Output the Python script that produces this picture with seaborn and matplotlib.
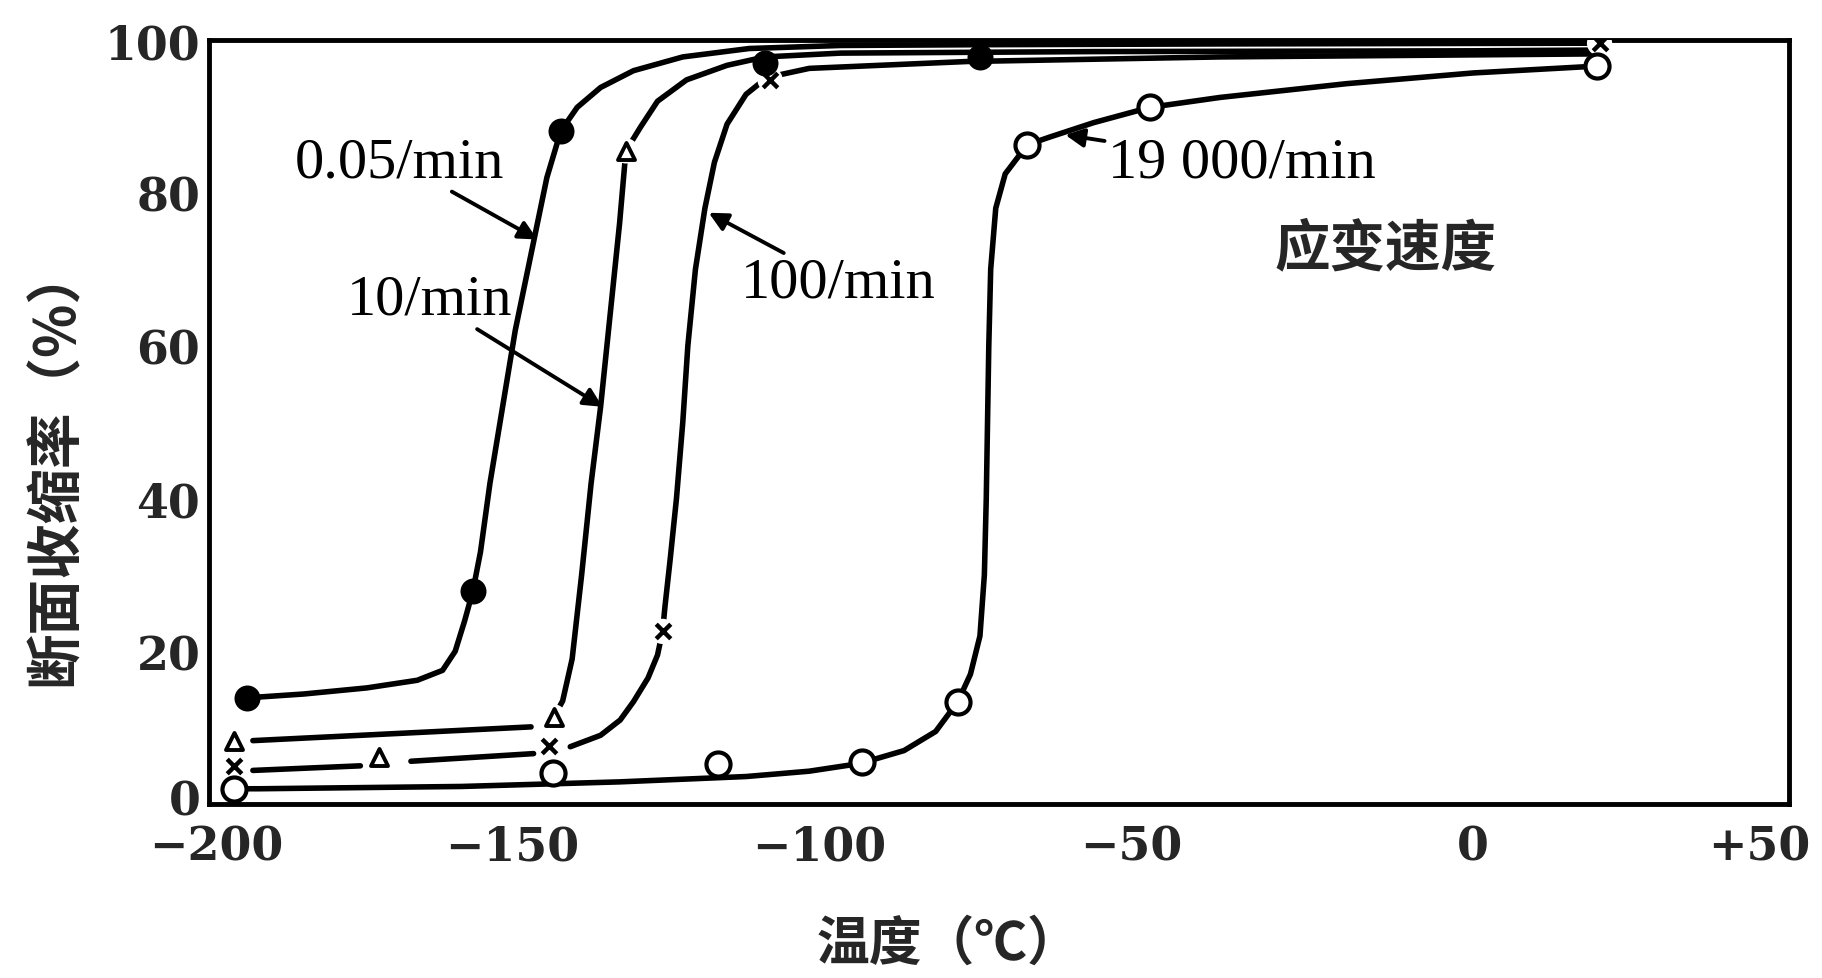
import numpy as np
import pandas as pd
import matplotlib
matplotlib.use('Agg')
import matplotlib.pyplot as plt
import matplotlib.transforms as mtransforms
import seaborn as sns

# curve traces (temperature C, reduction of area %), seg = separate stroke
fast_x = [-194, -185, -175, -167, -163, -161, -159.5, -158.2, -157, -155.5, -153.5, -151.5, -149, -146.5,
          -144.3, -141.7, -138, -132.8, -125, -114.5, -100, -78, -40, 20]
fast_y = [13.9, 14.4, 15.2, 16.2, 17.5, 20, 24, 27.9, 33, 42, 52, 62, 72, 82,
          88.1, 91.2, 93.8, 96, 97.8, 98.9, 99.3, 99.4, 99.5, 99.6]
fast_seg = [0] * len(fast_x)

r10_x = [-193, -149,
         -145.4, -144, -142.5, -141, -139.5, -138, -136.5, -135, -134, -131.7, -129, -124.4, -118, -112,
         -100, -60, 0, 20]
r10_y = [8.3, 10.1,
         11.4, 13.5, 19, 30, 42, 52, 64, 76, 85.5, 88.6, 92, 94.8, 96.7, 97.8,
         98.3, 98.5, 98.6, 98.7]
r10_seg = [0, 0] + [1] * 18

r100_x = [-193, -176,
          -168, -148.6,
          -142.8, -138, -134.9, -132.8, -130.5, -129, -128.2, -127.8, -127, -126, -125, -124.2, -123,
          -121.5, -120, -118, -115, -111.7, -105, -80, -40, 20]
r100_y = [4.4, 5.0,
          5.6, 6.6,
          7.5, 9, 11, 13.4, 16.5, 19.5, 22.6, 26, 32, 40, 50, 60, 70,
          78, 84, 89, 92.9, 95.1, 96.3, 97.2, 97.8, 98.2]
r100_seg = [0, 0, 1, 1] + [2] * 22

r19k_x = [-196, -192, -160, -135, -115, -105, -97, -90, -85, -81.5, -79.5, -78, -77.3, -77, -76.8,
          -76.6, -76.3, -75.5, -74, -70.5, -67, -60, -51.1, -40, -20, 0, 19.6]
r19k_y = [2.0, 2.0, 2.3, 2.9, 3.6, 4.3, 5.3, 7.0, 9.5, 13.4, 17, 22, 30, 40, 50,
          60, 70, 78, 82.5, 86.3, 87.3, 89.2, 91.2, 92.5, 94.3, 95.7, 96.6]
r19k_seg = [0] * len(r19k_x)

# measured points (markers)
fast_px = [-194, -158.2, -144.3, -112, -78]
fast_py = [13.9, 27.9, 88.1, 97.0, 97.8]
r10_px = [-196, -173, -145.4, -134]
r10_py = [8.3, 6.2, 11.4, 85.5]
r100_px = [-196, -146.2, -128.2, -111.2, 20]
r100_py = [5.0, 7.6, 22.6, 94.8, 99.6]
r19k_px = [-196, -145.6, -119.4, -96.7, -81.5, -70.5, -51.1, 19.6]
r19k_py = [2.0, 4.0, 5.3, 5.5, 13.4, 86.3, 91.2, 96.6]

x_ticks = [-200, -150, -100, -50, 0, 50]
x_labels = ['\u2212200', '\u2212150', '\u2212100', '\u221250', '0', '+50']
x_label_shift = [8, -13, -22, -26, 0, -30]   # px, labels sit a bit off their ticks
y_ticks = [0, 20, 40, 60, 80, 100]

sns.set_style('white')
plt.rcParams['font.family'] = ['DejaVu Serif']

fig = plt.figure(figsize=(18.22, 9.79), dpi=100)
ax = fig.add_axes([0.1145, 0.1777, 0.982 - 0.1145, 0.958 - 0.1777])

def trace(xs, ys, segs):
    df = pd.DataFrame({'x': xs, 'y': ys, 'seg': segs})
    sns.lineplot(data=df, x='x', y='y', units='seg', estimator=None, sort=False,
                 color='black', lw=4, ax=ax, zorder=2)

trace(fast_x, fast_y, fast_seg)
trace(r10_x, r10_y, r10_seg)
trace(r100_x, r100_y, r100_seg)
trace(r19k_x, r19k_y, r19k_seg)

# white halos so lines break around open markers
sns.scatterplot(x=r10_px + r100_px, y=r10_py + r100_py, marker='o', s=330, color='white',
                edgecolor='none', ax=ax, zorder=3)
sns.scatterplot(x=fast_px, y=fast_py, marker='o', s=300, color='black', edgecolor='black', ax=ax, zorder=4)
sns.scatterplot(x=r10_px, y=r10_py, marker='^', s=150, color='white', edgecolor='black',
                linewidth=2.8, ax=ax, zorder=4)
sns.scatterplot(x=r100_px, y=r100_py, marker='x', s=110, color='black', linewidth=3.2, ax=ax, zorder=4)
sns.scatterplot(x=r19k_px, y=r19k_py, marker='o', s=300, color='white', edgecolor='black',
                linewidth=3, ax=ax, zorder=4)

ax.set_xlim(-200, 50)
ax.set_ylim(0, 100)
ax.set_xticks(x_ticks)
ax.set_xticklabels(x_labels)
ax.set_xticks([-175, -125, -75, -25, 25], minor=True)
ax.set_yticks(y_ticks)
ax.set_yticklabels([str(v) for v in y_ticks])
ax.tick_params(axis='both', which='both', direction='in', width=3, color='black')
ax.tick_params(axis='x', which='both', length=10, pad=14)
ax.tick_params(axis='y', length=14, pad=6)
for lab in ax.get_xticklabels() + ax.get_yticklabels():
    lab.set_fontsize(33)
    lab.set_fontweight('bold')
for lab, dx in zip(ax.get_xticklabels(), x_label_shift):
    lab.set_transform(lab.get_transform() +
                      mtransforms.ScaledTranslation(dx / 100, 0, fig.dpi_scale_trans))
# the "0" on the y axis sits a little above the corner
zero_lab = ax.get_yticklabels()[0]
zero_lab.set_transform(zero_lab.get_transform() +
                       mtransforms.ScaledTranslation(0, 8 / 100, fig.dpi_scale_trans))
for sp in ax.spines.values():
    sp.set_linewidth(3.5)
    sp.set_color('black')

cjk = ['Noto Sans CJK SC', 'DejaVu Sans']
ax.set_xlabel('温度（℃）', fontsize=38, fontweight='bold', family=cjk)
ax.xaxis.set_label_coords(0.468, -0.148)
ax.set_ylabel('断面收缩率（%）', fontsize=40, fontweight='bold', family=cjk)
ax.yaxis.set_label_coords(-0.079, 0.445)

lab_font = dict(fontsize=42, family=['Liberation Serif'], color='black')
arrow = dict(arrowstyle='-|>', color='black', lw=2.8, mutation_scale=28, shrinkA=0, shrinkB=0)
ax.annotate('0.05/min', xy=(-148, 73.9), xytext=(-169.8, 84), ha='center', va='center',
            arrowprops=arrow, **lab_font)
ax.annotate('10/min', xy=(-137.7, 52), xytext=(-165, 66), ha='center', va='center',
            arrowprops=arrow, **lab_font)
ax.annotate('100/min', xy=(-120.9, 77.4), xytext=(-100.4, 68.3), ha='center', va='center',
            arrowprops=arrow, **lab_font)
ax.annotate('19 000/min', xy=(-64.5, 87.6), xytext=(-36.6, 84), ha='center', va='center',
            arrowprops=arrow, **lab_font)
ax.text(-13.9, 72.7, '应变速度', fontsize=40, fontweight='bold', family=cjk,
        ha='center', va='center')

fig.savefig('out.png', dpi=100, facecolor='white')
